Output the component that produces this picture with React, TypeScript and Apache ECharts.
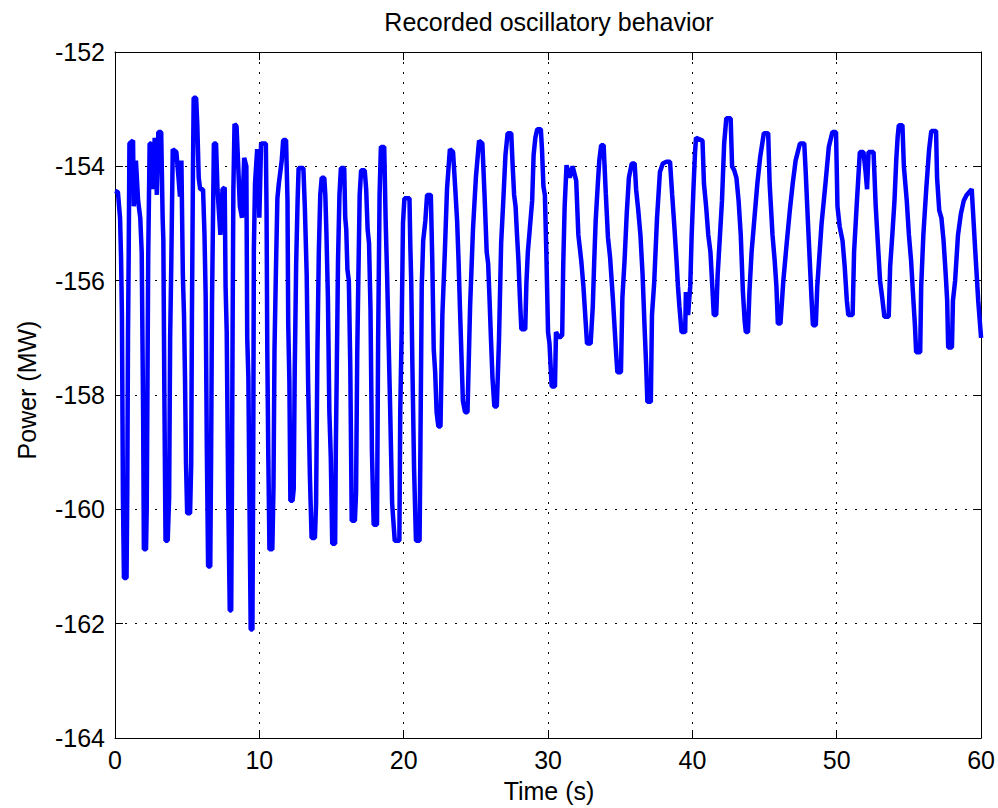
import React, { useEffect, useRef } from "react";
import * as echarts from "echarts";

const TITLE = "Recorded oscillatory behavior";
const X_NAME = "Time (s)";
const Y_NAME = "Power (MW)";

const TIME = [
  0.0, 0.2, 0.35, 0.42, 0.48, 0.55, 0.62, 0.8, 0.85, 0.9, 0.95, 1.0, 1.25, 1.3, 1.45, 1.6, 1.75, 1.85, 1.95, 2.0,
  2.15, 2.2, 2.25, 2.3, 2.4, 2.5, 2.6, 2.75, 2.9, 3.0, 3.2, 3.3, 3.35, 3.42, 3.5, 3.65, 3.75, 3.82, 3.9, 4.0,
  4.25, 4.4, 4.5, 4.6, 4.7, 4.78, 4.85, 4.92, 5.0, 5.2, 5.28, 5.33, 5.4, 5.45, 5.62, 5.7, 5.8, 5.9, 6.1, 6.2,
  6.28, 6.36, 6.45, 6.6, 6.66, 6.72, 6.78, 6.85, 7.0, 7.1, 7.3, 7.45, 7.6, 7.66, 7.74, 7.84, 7.95, 8.05, 8.1, 8.15,
  8.2, 8.28, 8.42, 8.5, 8.65, 8.8, 8.95, 9.1, 9.16, 9.24, 9.32, 9.4, 9.52, 9.57, 9.62, 9.7, 9.85, 9.92, 10.0, 10.12,
  10.45, 10.5, 10.55, 10.62, 10.7, 10.9, 10.98, 11.05, 11.15, 11.25, 11.35, 11.55, 11.65, 11.85, 11.95, 12.0, 12.08, 12.15, 12.3, 12.38,
  12.45, 12.55, 12.65, 12.72, 13.05, 13.15, 13.28, 13.38, 13.5, 13.62, 13.85, 13.93, 14.02, 14.12, 14.22, 14.32, 14.5, 14.57, 14.65, 14.75,
  14.85, 14.95, 15.05, 15.25, 15.3, 15.36, 15.45, 15.55, 15.65, 15.88, 15.95, 16.02, 16.1, 16.2, 16.3, 16.4, 16.62, 16.7, 16.78, 16.85,
  16.95, 17.05, 17.3, 17.4, 17.5, 17.6, 17.7, 17.8, 17.92, 18.15, 18.23, 18.33, 18.42, 18.65, 18.75, 18.85, 18.95, 19.05, 19.2, 19.38,
  19.7, 19.76, 19.85, 19.95, 20.05, 20.4, 20.46, 20.52, 20.6, 20.72, 20.85, 21.1, 21.16, 21.25, 21.35, 21.5, 21.62, 21.88, 21.98, 22.08,
  22.18, 22.28, 22.4, 22.55, 22.68, 22.85, 23.0, 23.2, 23.42, 23.55, 23.7, 23.8, 23.9, 24.0, 24.1, 24.25, 24.42, 24.6, 24.8, 25.0,
  25.22, 25.45, 25.6, 25.75, 25.85, 25.95, 26.05, 26.15, 26.28, 26.45, 26.6, 26.75, 26.9, 27.05, 27.2, 27.45, 27.55, 27.65, 27.75, 27.85,
  27.95, 28.05, 28.15, 28.42, 28.5, 28.6, 28.75, 28.9, 29.0, 29.12, 29.25, 29.5, 29.58, 29.68, 29.78, 29.88, 30.0, 30.1, 30.25, 30.48,
  30.55, 30.8, 30.98, 31.05, 31.15, 31.28, 31.5, 31.7, 31.95, 32.1, 32.3, 32.45, 32.6, 32.7, 32.95, 33.1, 33.2, 33.3, 33.45, 33.55,
  33.68, 33.85, 34.0, 34.15, 34.3, 34.5, 34.7, 34.8, 35.05, 35.15, 35.3, 35.45, 35.6, 35.8, 36.0, 36.1, 36.25, 36.4, 36.55, 36.7,
  36.8, 36.88, 37.12, 37.2, 37.35, 37.55, 37.75, 37.95, 38.2, 38.45, 38.6, 38.75, 38.9, 39.0, 39.1, 39.25, 39.5, 39.55, 39.7, 39.85,
  39.95, 40.08, 40.18, 40.25, 40.7, 40.8, 40.95, 41.1, 41.25, 41.4, 41.48, 41.65, 41.75, 41.9, 42.05, 42.2, 42.35, 42.65, 42.75, 42.9,
  43.05, 43.2, 43.35, 43.5, 43.62, 43.7, 43.85, 43.95, 44.1, 44.3, 44.5, 44.7, 44.95, 45.25, 45.35, 45.55, 45.7, 45.82, 45.92, 46.1,
  46.3, 46.55, 46.75, 46.95, 47.15, 47.45, 47.75, 47.85, 48.0, 48.12, 48.25, 48.35, 48.55, 48.65, 48.95, 49.2, 49.45, 49.7, 49.95, 50.05,
  50.2, 50.4, 50.55, 50.7, 50.8, 51.1, 51.2, 51.4, 51.6, 51.85, 52.0, 52.1, 52.2, 52.55, 52.7, 52.85, 53.0, 53.15, 53.3, 53.6,
  53.7, 53.85, 54.0, 54.12, 54.22, 54.3, 54.55, 54.65, 54.85, 55.0, 55.15, 55.3, 55.42, 55.5, 55.78, 55.85, 56.0, 56.2, 56.4, 56.55,
  56.88, 56.95, 57.1, 57.25, 57.4, 57.55, 57.65, 57.72, 57.98, 58.05, 58.2, 58.4, 58.6, 58.8, 59.0, 59.35, 59.6, 59.8, 60.0,
];

const POWER = [
  -154.43, -154.45, -154.9, -155.6, -156.6, -159.8, -161.2, -161.2, -159.7, -157.0, -155.5, -153.6, -153.55, -154.7, -153.9, -154.6, -154.9, -155.5, -158.4, -160.7,
  -160.7, -159.95, -157.8, -155.6, -153.6, -153.6, -154.4, -153.5, -154.5, -153.4, -153.4, -154.9, -155.3, -158.0, -160.55, -160.55, -159.8, -157.0, -155.7, -153.7,
  -153.75, -154.2, -154.53, -153.9, -155.9, -156.6, -157.7, -159.2, -160.07, -160.07, -159.2, -156.6, -154.1, -152.8, -152.8, -153.26, -154.2, -154.4, -154.4, -155.2,
  -156.25, -158.9, -161.0, -161.0, -159.0, -156.4, -155.1, -153.6, -153.6, -154.4, -155.2, -154.4, -154.37, -156.1, -156.9, -159.7, -161.77, -161.77, -159.7, -156.67,
  -154.4, -153.26, -153.3, -153.77, -154.7, -154.9, -153.85, -154.0, -157.0, -157.7, -160.0, -162.1, -162.1, -159.6, -155.45, -154.3, -153.7, -154.0, -154.9, -153.6,
  -153.6, -154.8, -157.2, -159.05, -160.7, -160.7, -159.6, -157.2, -155.8, -154.56, -154.3, -153.9, -153.54, -153.54, -154.6, -156.75, -157.75, -159.85, -159.85, -159.65,
  -157.6, -155.7, -154.6, -154.03, -154.03, -154.7, -155.9, -157.8, -159.4, -160.5, -160.5, -159.9, -157.3, -155.5, -154.5, -154.2, -154.2, -154.5, -155.2, -156.3,
  -158.3, -159.1, -160.6, -160.6, -158.9, -157.65, -155.65, -154.5, -154.03, -154.03, -154.9, -155.1, -155.8, -156.0, -157.5, -160.2, -160.2, -159.7, -157.3, -156.1,
  -154.5, -154.07, -154.07, -154.4, -155.1, -155.35, -156.5, -159.0, -160.27, -160.27, -157.0, -154.5, -153.66, -153.66, -154.95, -155.9, -157.0, -158.1, -159.9, -160.55,
  -160.55, -158.3, -157.0, -155.0, -154.56, -154.56, -155.4, -156.0, -157.45, -159.3, -160.55, -160.55, -158.85, -156.1, -155.3, -154.95, -154.5, -154.5, -155.65, -157.2,
  -157.6, -158.3, -158.55, -158.55, -156.6, -155.5, -154.4, -153.7, -153.75, -154.3, -154.95, -155.65, -156.5, -157.3, -158.1, -158.3, -158.3, -156.45, -155.1, -154.2,
  -153.55, -153.6, -154.5, -155.5, -155.7, -156.35, -157.05, -157.7, -158.2, -158.2, -157.05, -155.35, -154.6, -153.8, -153.42, -153.42, -154.0, -154.5, -154.7, -155.2,
  -155.65, -156.3, -156.85, -156.85, -156.05, -155.5, -155.05, -154.6, -153.8, -153.5, -153.35, -153.35, -153.7, -154.35, -154.5, -155.5, -156.9, -157.1, -157.85, -157.85,
  -156.9, -157.0, -156.95, -155.75, -154.7, -153.98, -154.2, -154.0, -154.25, -155.2, -155.65, -156.1, -156.7, -157.1, -157.1, -156.45, -155.65, -154.95, -154.3, -153.9,
  -153.63, -153.63, -154.47, -155.24, -155.6, -156.35, -157.2, -157.6, -157.6, -156.3, -155.65, -154.83, -154.2, -153.95, -153.95, -154.4, -154.77, -155.2, -155.9, -156.9,
  -157.5, -158.12, -158.12, -156.6, -156.05, -154.9, -154.1, -153.95, -153.92, -153.92, -154.5, -155.05, -155.65, -156.1, -156.45, -156.9, -156.9, -156.2, -156.6, -156.1,
  -155.2, -154.35, -153.77, -153.5, -153.55, -154.3, -154.7, -155.2, -155.5, -156.2, -156.6, -156.6, -155.9, -155.25, -154.6, -153.6, -153.16, -153.16, -154.0, -154.07,
  -154.2, -154.6, -155.2, -156.2, -156.7, -156.9, -156.9, -156.2, -155.5, -154.9, -154.3, -153.83, -153.42, -153.42, -154.3, -155.2, -155.65, -156.1, -156.75, -156.75,
  -156.0, -155.3, -154.77, -154.3, -153.9, -153.6, -153.6, -154.1, -154.95, -155.6, -156.3, -156.78, -156.78, -156.1, -155.0, -154.35, -153.66, -153.4, -153.4, -154.7,
  -155.05, -155.3, -155.75, -156.35, -156.6, -156.6, -155.5, -154.6, -153.75, -153.75, -154.1, -154.4, -153.75, -153.75, -154.7, -155.35, -156.0, -156.3, -156.63, -156.63,
  -155.75, -155.2, -154.6, -153.9, -153.48, -153.28, -153.28, -154.0, -154.6, -155.2, -155.65, -156.3, -156.8, -157.25, -157.25, -156.1, -155.2, -154.4, -153.7, -153.38,
  -153.38, -154.2, -154.77, -154.9, -155.3, -155.9, -156.35, -157.17, -157.17, -156.35, -156.0, -155.2, -154.83, -154.6, -154.5, -154.4, -155.5, -156.35, -157.0,
];

const X_MIN = 0;
const X_MAX = 60;
const X_STEP = 10;
const Y_MIN = -164;
const Y_MAX = -152;
const Y_STEP = 2;

const FONT = "'Liberation Sans', Arial, Helvetica, sans-serif";

export default function App() {
  const ref = useRef<HTMLDivElement>(null);

  useEffect(() => {
    if (!ref.current) return;
    const chart = echarts.init(ref.current, null, { renderer: "svg" });
    const data = TIME.map((t, i) => [t, POWER[i]]);

    const frameLine = { show: true, onZero: false, lineStyle: { color: "#000", width: 1 } };
    const innerTick = { show: true, inside: true, length: 8, lineStyle: { color: "#000", width: 1 } };
    const dotted = { show: true, lineStyle: { color: "#000", width: 1, type: [2, 8] as any } };

    chart.setOption({
      animation: false,
      backgroundColor: "#fff",
      textStyle: { fontFamily: FONT },
      grid: { left: 115, right: 14, top: 52, bottom: 70, containLabel: false },
      xAxis: [
        {
          type: "value",
          position: "bottom",
          min: X_MIN,
          max: X_MAX,
          interval: X_STEP,
          axisLine: frameLine,
          axisTick: innerTick,
          axisLabel: { color: "#000", fontSize: 25, margin: 9, fontFamily: FONT },
          splitLine: dotted,
        },
        {
          type: "value",
          position: "top",
          min: X_MIN,
          max: X_MAX,
          interval: X_STEP,
          axisLine: frameLine,
          axisTick: innerTick,
          axisLabel: { show: false },
          splitLine: { show: false },
        },
      ],
      yAxis: [
        {
          type: "value",
          position: "left",
          min: Y_MIN,
          max: Y_MAX,
          interval: Y_STEP,
          axisLine: frameLine,
          axisTick: innerTick,
          axisLabel: { color: "#000", fontSize: 25, margin: 10, fontFamily: FONT },
          splitLine: dotted,
        },
        {
          type: "value",
          position: "right",
          min: Y_MIN,
          max: Y_MAX,
          interval: Y_STEP,
          axisLine: frameLine,
          axisTick: innerTick,
          axisLabel: { show: false },
          splitLine: { show: false },
        },
      ],
      graphic: [
        {
          type: "text",
          x: 549,
          y: 22,
          style: { text: TITLE, fill: "#000", font: `25px ${FONT}`, textAlign: "center", textVerticalAlign: "middle" },
        },
        {
          type: "text",
          x: 549,
          y: 791,
          style: { text: X_NAME, fill: "#000", font: `25px ${FONT}`, textAlign: "center", textVerticalAlign: "middle" },
        },
        {
          type: "text",
          x: 27,
          y: 390,
          rotation: Math.PI / 2,
          style: { text: Y_NAME, fill: "#000", font: `25px ${FONT}`, textAlign: "center", textVerticalAlign: "middle" },
        },
      ],
      series: [
        {
          type: "line",
          xAxisIndex: 0,
          yAxisIndex: 0,
          data,
          symbol: "none",
          showSymbol: false,
          lineStyle: { color: "#0000ff", width: 4.5, join: "bevel" },
          z: 5,
        },
      ],
    });

    return () => chart.dispose();
  }, []);

  return (
    <div
      ref={ref}
      style={{ position: "fixed", left: 0, top: 0, width: 998, height: 808, background: "#fff" }}
    />
  );
}
